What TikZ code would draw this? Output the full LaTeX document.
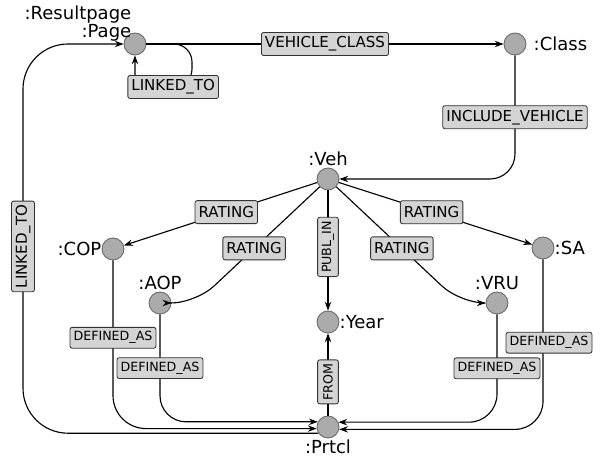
\documentclass[tikz,border=0pt]{standalone}
\usepackage{fontspec}
\setmainfont{DejaVu Sans}
\usetikzlibrary{arrows.meta}

\begin{document}
\begin{tikzpicture}[
    vert/.style={circle, draw=black!60, fill=black!33, line width=0.6pt, minimum size=0.55cm, inner sep=0pt},
    rel/.style={draw=black!80, fill=black!17, line width=0.6pt, rounded corners=1.5pt, inner xsep=2.5pt, inner ysep=0pt, minimum height=0.575cm, font=\fontsize{10.7}{12}\selectfont},
    relsm/.style={rel, minimum height=0.52cm, font=\fontsize{9}{10}\selectfont},
    link/.style={-{Stealth[length=2.2mm,width=1.6mm]}, line width=0.8pt},
    every label/.style={font=\fontsize{12.8}{14}\selectfont, inner sep=1pt}
  ]
    \useasboundingbox (0,0) rectangle (15.125,11.55);
    \node[vert, label={[align=right, xshift=0.15cm, yshift=-0.18cm, font=\fontsize{12.8}{11.5}\selectfont]north west:{:Resultpage\\:Page}}] (page) at (3.375,10.45) {};
    \node[vert, label={[label distance=4pt]east:{:Class}}] (cls) at (12.875,10.45) {};
    \node[vert, label={above:{:Veh}}] (veh) at (8.2,7.075) {};
    \node[vert, label={[inner sep=0pt]west:{:COP}}] (cop) at (2.825,5.325) {};
    \node[vert, label={above:{:AOP}}] (aop) at (4.0,3.975) {};
    \node[vert, label={[inner sep=0pt]east:{:Year}}] (year) at (8.2,3.5) {};
    \node[vert, label={above:{:VRU}}] (vru) at (12.425,3.975) {};
    \node[vert, label={[inner sep=0pt]east:{:SA}}] (sa) at (13.575,5.35) {};
    \node[vert, label={below:{:Prtcl}}] (prtcl) at (8.2,0.875) {};

    \draw[link] (page) -- node[rel]{VEHICLE\_CLASS} (cls);
    \draw[link] (page.east) [rounded corners=0.45cm] -| (4.8,9.375) [sharp corners] -- node[rel, pos=0.33]{LINKED\_TO} (3.375,9.375) -- (page.south);
    \draw[link, rounded corners=0.625cm] (cls) |- node[rel, pos=0.25]{INCLUDE\_VEHICLE} (veh);
    \draw[link] (veh) -- node[rel, pos=0.47]{RATING} (cop);
    \draw[link, rounded corners=0.625cm] (veh) -- node[rel, pos=0.53]{RATING} (4.9,3.975) -- (aop);
    \draw[link] (veh) -- node[relsm, rotate=90, pos=0.47]{PUBL\_IN} (year);
    \draw[link, rounded corners=0.625cm] (veh) -- node[rel, pos=0.53]{RATING} (11.5,3.975) -- (vru);
    \draw[link] (veh) -- node[rel, pos=0.48]{RATING} (sa);
    \draw[link] (prtcl) -- node[relsm, rotate=90, pos=0.41]{FROM} (year);
    \draw[link, rounded corners=0.825cm] (cop) |- node[relsm, pos=0.23]{DEFINED\_AS} (prtcl.188);
    \draw[link, rounded corners=0.65cm] (aop) |- node[relsm, pos=0.25]{DEFINED\_AS} (prtcl.153);
    \draw[link, rounded corners=0.7cm] (vru) |- node[relsm, pos=0.25]{DEFINED\_AS} (prtcl.25);
    \draw[link, rounded corners=0.7cm] (sa) |- node[relsm, pos=0.245, xshift=0.15cm]{DEFINED\_AS} (prtcl.348);
    \draw[link, rounded corners=1.125cm] (prtcl.213) -| node[rel, rotate=90, pos=0.74]{LINKED\_TO} (0.575,10.45) -- (page);
\end{tikzpicture}
\end{document}
